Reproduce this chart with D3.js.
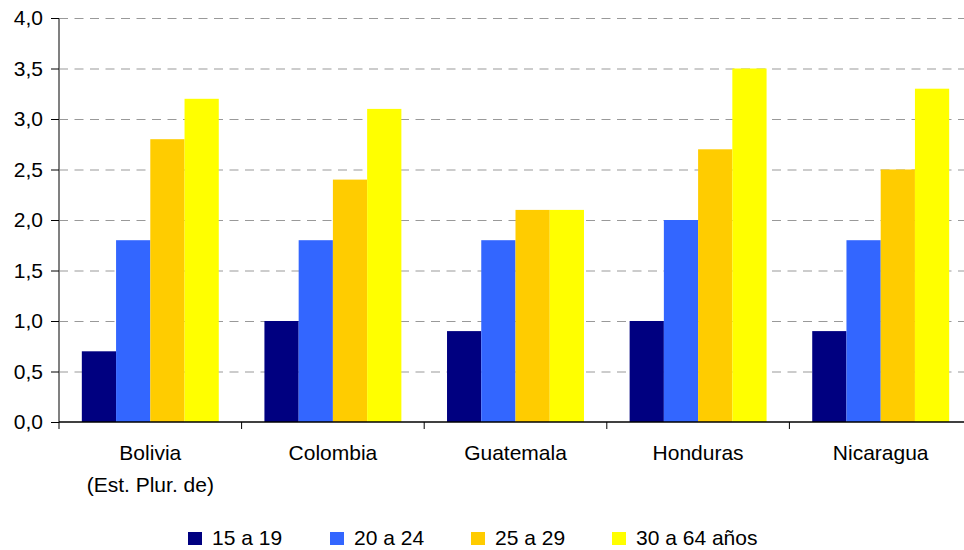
<!DOCTYPE html>
<html><head><meta charset="utf-8">
<script src="https://cdn.jsdelivr.net/npm/d3@7"></script>
<style>body{margin:0;background:#fff;} svg{display:block;font-family:"Liberation Sans",Arial,sans-serif;}</style>
</head><body><svg id="c" width="964" height="550"></svg>
<script>
const categories = [["Bolivia","(Est. Plur. de)"],["Colombia"],["Guatemala"],["Honduras"],["Nicaragua"]];
const seriesNames = ["15 a 19","20 a 24","25 a 29","30 a 64 años"];
const colors = ["#000080","#3366FF","#FFCC00","#FFFF00"];
const s1519 = [0.7,1.0,0.9,1.0,0.9];
const s2024 = [1.8,1.8,1.8,2.0,1.8];
const s2529 = [2.8,2.4,2.1,2.7,2.5];
const s3064 = [3.2,3.1,2.1,3.5,3.3];
const yTicks = [0,0.5,1,1.5,2,2.5,3,3.5,4];
const seriesVals = [s1519,s2024,s2529,s3064];

(function(){
const svg = d3.select("#c");
const pLeft=59, pRight=972, pTop=18, pBottom=422;
const FS = 21;
const x0 = d3.scaleBand().domain(d3.range(categories.length)).range([pLeft,pRight]).paddingInner(0.25).paddingOuter(0.125);
const x1 = d3.scaleBand().domain(d3.range(seriesNames.length)).range([0,x0.bandwidth()]);
const y = d3.scaleLinear().domain([0,4]).range([pBottom,pTop]);
const fmt = d => d3.format(".1f")(d).replace(".",",");

svg.append("g").selectAll("line").data(yTicks.filter(d=>d>0)).join("line")
  .attr("x1",pLeft).attr("x2",964).attr("y1",d=>y(d)+0.5).attr("y2",d=>y(d)+0.5)
  .attr("stroke","#999").attr("stroke-dasharray","9,6.5").attr("stroke-width",1);

const g = svg.append("g");
seriesVals.forEach((vals,si)=>{
  g.append("g").selectAll("rect").data(vals).join("rect")
   .attr("x",(d,i)=>x0(i)+x1(si)).attr("width",x1.bandwidth())
   .attr("y",d=>y(d)).attr("height",d=>pBottom-y(d))
   .attr("fill",colors[si]);
});

const ya = svg.append("g").attr("transform",`translate(${pLeft},0)`)
  .call(d3.axisLeft(y).tickValues(yTicks).tickFormat(fmt).tickSize(8).tickPadding(8));
ya.select(".domain").attr("stroke","#808080").attr("stroke-width",2).attr("d",`M0,${pTop}V${pBottom}`);
ya.selectAll(".tick line").attr("stroke","#000");
ya.selectAll("text").attr("font-size",FS).attr("fill","#000").attr("font-family","Liberation Sans, Arial, sans-serif");

svg.append("line").attr("x1",pLeft).attr("x2",964).attr("y1",pBottom).attr("y2",pBottom).attr("stroke","#000").attr("stroke-width",1.3);
const step = x0.step();
svg.append("g").selectAll("line").data(d3.range(categories.length+1)).join("line")
  .attr("x1",d=>pLeft+d*step).attr("x2",d=>pLeft+d*step).attr("y1",pBottom).attr("y2",pBottom+7)
  .attr("stroke","#000");
categories.forEach((lines,i)=>{
  const cx = x0(i)+x0.bandwidth()/2;
  lines.forEach((t,j)=>{
    svg.append("text").attr("x",cx).attr("y",460+j*32).attr("text-anchor","middle")
      .attr("font-size",FS).attr("fill","#000").text(t);
  });
});

const legX = [188,330,471,612];
seriesNames.forEach((n,i)=>{
  svg.append("rect").attr("x",legX[i]).attr("y",532).attr("width",14).attr("height",13).attr("fill",colors[i]);
  svg.append("text").attr("x",legX[i]+24).attr("y",545).attr("font-size",FS).attr("fill","#000").text(n);
});
})();
</script></body></html>
